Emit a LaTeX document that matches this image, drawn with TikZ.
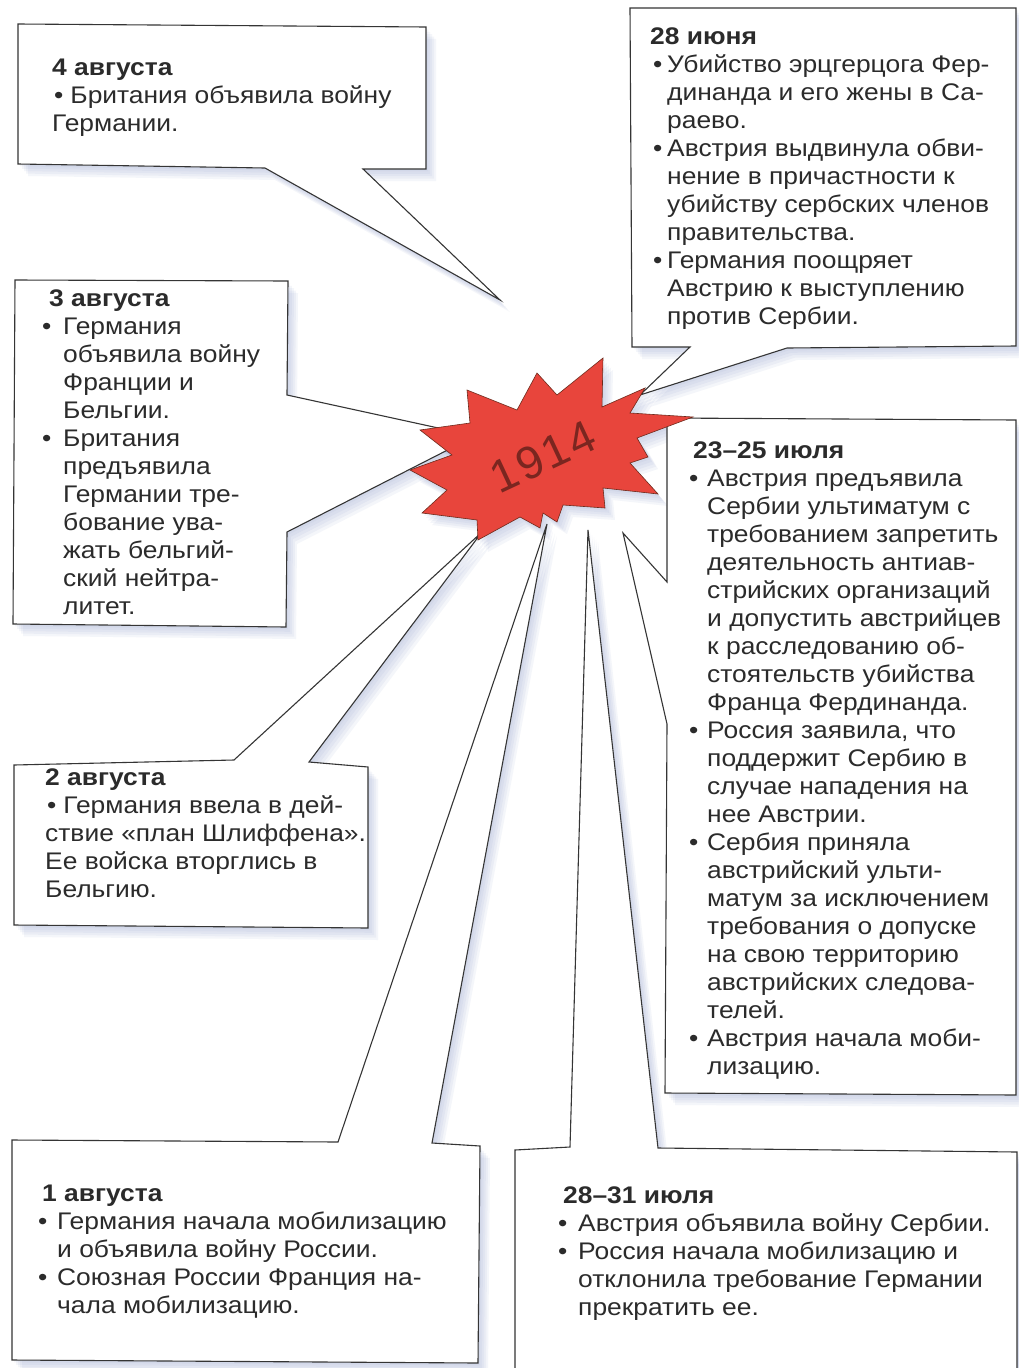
\documentclass[tikz,border=0pt]{standalone}
\usepackage{fontspec}
\setmainfont[FakeStretch=1.1]{Liberation Sans}
\newfontfamily\yearfont[LetterSpace=6]{Liberation Sans}
\definecolor{linec}{HTML}{353535}
\definecolor{textc}{HTML}{2B2B2B}
\definecolor{shadc}{HTML}{8F9CCB}
\definecolor{starred}{HTML}{E8453C}
\definecolor{staredge}{HTML}{6E2A1C}
\definecolor{startext}{HTML}{7A2620}
\newcommand\Blk[1]{\vtop{\baselineskip=28pt\lineskiplimit=-100pt\lineskip=0pt #1}}
\newcommand\Tl[2][0pt]{\hbox{\hspace*{#1}\bfseries #2}}
\newcommand\Pl[1]{\hbox{#1}}
\newcommand\Bl[1]{\hbox{\hspace*{\bx}\makebox[\bw][l]{•}#1}}
\newcommand\Cl[1]{\hbox{\hspace*{\bx}\hspace*{\bw}#1}}
\newcommand\Shadow[1]{\foreach \d in {2,4,6,8,10}{\fill[shad,shift={(\d,1.2*\d)}] #1;}}
\begin{document}
\begin{tikzpicture}[x=1pt,y=-1pt,
  box/.style={fill=white,draw=linec,line width=1.1pt,line join=miter},
  shad/.style={fill=shadc,opacity=0.09},
  starshape/.style={fill=starred,draw=staredge,line width=0.6pt,line join=miter},
  txt/.style={anchor=base west,inner sep=0pt,text=textc,font=\fontsize{24}{28}\selectfont}]
\useasboundingbox[fill=white] (0,0) rectangle (1018,1368);
% callout shapes (box + pointer)
\def\ShA{(18,24)--(426,27)--(426,169)--(363,169)--(500,300)--(265,168)--(18,164)--cycle}
\def\ShB{(15,280)--(288,281)--(287,395)--(475,436)--(287,532)--(286,627)--(13,624)--cycle}
\def\ShC{(630,8)--(1016,8)--(1016,346)--(787,348)--(640,395)--(690,347)--(632,347)--cycle}
\def\ShD{(667,418)--(1016,420)--(1016,1095)--(665,1093)--(667,724)--(623,533)--(667,582)--cycle}
\def\ShE{(14,765)--(234,760)--(482,532)--(309,762)--(368,767)--(368,928)--(14,925)--cycle}
\def\ShF{(12,1140)--(338,1142)--(547,524)--(432,1143)--(480,1146)--(478,1363)--(12,1360)--cycle}
\def\ShG{(515,1380)--(515,1150)--(570,1147)--(588,530)--(658,1148)--(1017,1152)--(1017,1380)--cycle}
\def\ShStar{(537,373)--(557,395)--(603,358)--(602,407)--(645,388)--(630,413)--(693,417)--(637,438)--(648,457)--(630,463)--(658,494)--(603,488)--(605,508)--(563,505)--(557,522)--(543,513)--(540,528)--(520,517)--(478,540)--(477,520)--(422,513)--(447,490)--(410,470)--(452,455)--(420,430)--(470,423)--(467,390)--(517,410)--cycle}
% shadows
\Shadow{\ShA}\Shadow{\ShB}\Shadow{\ShC}\Shadow{\ShD}\Shadow{\ShE}\Shadow{\ShF}\Shadow{\ShG}\Shadow{\ShStar}
% boxes
\draw[box] \ShA;
\draw[box] \ShB;
\draw[box] \ShC;
\draw[box] \ShD;
\draw[box] \ShE;
\draw[box] \ShF;
\draw[box] \ShG;
% star
\draw[starshape] \ShStar;
\node[rotate=25,inner sep=0pt,text=startext,font=\yearfont\fontsize{46}{46}\selectfont] (year) at (543,457) {1914};
% texts
\node[txt] (t4aug) at (52,75) {\Blk{%
  \Tl{4 августа}
  \Pl{\hspace*{2pt}•\hspace*{7pt}Британия объявила войну}
  \Pl{Германии.}}};
\node[txt] (t28jun) at (650,44) {\Blk{\def\bx{3pt}\def\bw{14pt}%
  \Tl{28 июня}
  \Bl{Убийство эрцгерцога Фер-}
  \Cl{динанда и его жены в Са-}
  \Cl{раево.}
  \Bl{Австрия выдвинула обви-}
  \Cl{нение в причастности к}
  \Cl{убийству сербских членов}
  \Cl{правительства.}
  \Bl{Германия поощряет}
  \Cl{Австрию к выступлению}
  \Cl{против Сербии.}}};
\node[txt] (t3aug) at (42,306) {\Blk{\def\bx{0pt}\def\bw{21pt}%
  \Tl[7pt]{3 августа}
  \Bl{Германия}
  \Cl{объявила войну}
  \Cl{Франции и}
  \Cl{Бельгии.}
  \Bl{Британия}
  \Cl{предъявила}
  \Cl{Германии тре-}
  \Cl{бование ува-}
  \Cl{жать бельгий-}
  \Cl{ский нейтра-}
  \Cl{литет.}}};
\node[txt] (t23jul) at (689,458) {\Blk{\def\bx{0pt}\def\bw{18pt}%
  \Tl[4pt]{23–25 июля}
  \Bl{Австрия предъявила}
  \Cl{Сербии ультиматум с}
  \Cl{требованием запретить}
  \Cl{деятельность антиав-}
  \Cl{стрийских организаций}
  \Cl{и допустить австрийцев}
  \Cl{к расследованию об-}
  \Cl{стоятельств убийства}
  \Cl{Франца Фердинанда.}
  \Bl{Россия заявила, что}
  \Cl{поддержит Сербию в}
  \Cl{случае нападения на}
  \Cl{нее Австрии.}
  \Bl{Сербия приняла}
  \Cl{австрийский ульти-}
  \Cl{матум за исключением}
  \Cl{требования о допуске}
  \Cl{на свою территорию}
  \Cl{австрийских следова-}
  \Cl{телей.}
  \Bl{Австрия начала моби-}
  \Cl{лизацию.}}};
\node[txt] (t2aug) at (45,785) {\Blk{%
  \Tl{2 августа}
  \Pl{\hspace*{2pt}•\hspace*{7pt}Германия ввела в дей-}
  \Pl{ствие «план Шлиффена».}
  \Pl{Ее войска вторглись в}
  \Pl{Бельгию.}}};
\node[txt] (t1aug) at (38,1201) {\Blk{\def\bx{0pt}\def\bw{19pt}%
  \Tl[4pt]{1 августа}
  \Bl{Германия начала мобилизацию}
  \Cl{и объявила войну России.}
  \Bl{Союзная России Франция на-}
  \Cl{чала мобилизацию.}}};
\node[txt] (t28jul) at (558,1203) {\Blk{\def\bx{0pt}\def\bw{20pt}%
  \Tl[5pt]{28–31 июля}
  \Bl{Австрия объявила войну Сербии.}
  \Bl{Россия начала мобилизацию и}
  \Cl{отклонила требование Германии}
  \Cl{прекратить ее.}}};
\end{tikzpicture}
\end{document}
